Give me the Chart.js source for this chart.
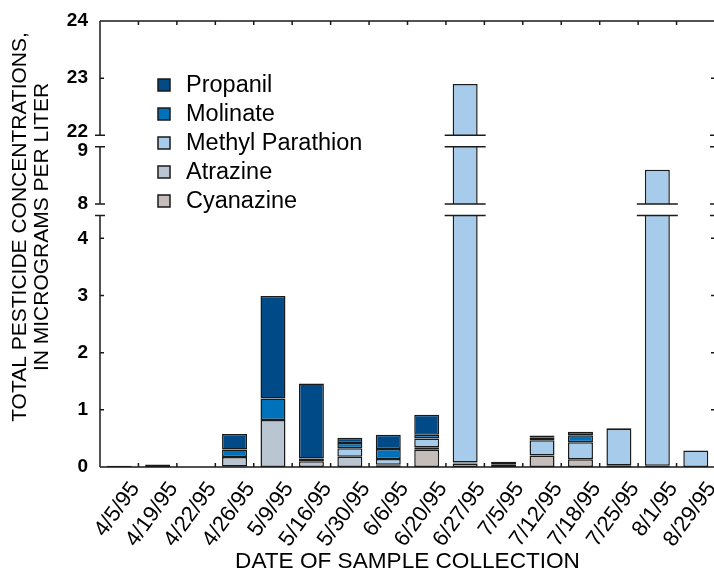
<!DOCTYPE html>
<html>
<head>
<meta charset="utf-8">
<script src="https://cdn.jsdelivr.net/npm/chart.js@4.4.0/dist/chart.umd.min.js"></script>
<style>
html, body { margin: 0; padding: 0; overflow: hidden; background: #fff; }
#wrap { width: 716px; height: 570px; }
</style>
</head>
<body>
<div id="wrap"><canvas id="pesticideChart" width="716" height="570"></canvas></div>
<script>
const FONT = "Arial, 'Liberation Sans', Helvetica, sans-serif";

// sample dates
const dates = ['4/5/95', '4/19/95', '4/22/95', '4/26/95', '5/9/95', '5/16/95', '5/30/95', '6/6/95',
  '6/20/95', '6/27/95', '7/5/95', '7/12/95', '7/18/95', '7/25/95', '8/1/95', '8/29/95'];

// concentrations, micrograms per liter (stacked bottom to top)
const cyanazine =       [0,    0,     0, 0.01,  0,    0,    0,    0.02,  0.30,  0.06,  0,    0.20,  0.135, 0.03, 0.02, 0];
const atrazine =        [0,    0,     0, 0.165, 0.82, 0.10, 0.18, 0.02,  0.045, 0.02,  0,    0,     0,     0,    0,    0];
const methylParathion = [0,    0,     0, 0,     0,    0.05, 0.15, 0.10,  0.155, 22.82, 0.04, 0.27,  0.30,  0.64, 8.58, 0.29];
const molinate =        [0,    0,     0, 0.13,  0.38, 0,    0.09, 0.175, 0.065, 0,     0.05, 0.05,  0.12,  0,    0,    0];
const propanil =        [0.02, 0.045, 0, 0.27,  1.79, 1.31, 0.09, 0.25,  0.35,  0,     0,    0.03,  0.06,  0.01, 0,    0];

// y axis: shown ranges and tick labels
const ySegments = [[0, 4.4], [8, 9], [22, 24]];
const yTicks = [0, 1, 2, 3, 4, 8, 9, 22, 23, 24];
const GAP = 0.2; // size of each axis break, in axis units

const segStart = [];
let acc = 0;
ySegments.forEach(([lo, hi]) => { segStart.push(acc); acc += (hi - lo) + GAP; });
const D_MAX = acc - GAP;

function toDisplay(v) {
  for (let i = 0; i < ySegments.length; i++) {
    const [lo, hi] = ySegments[i];
    if (v <= hi || i === ySegments.length - 1) {
      if (v >= lo || i === 0) return segStart[i] + (v - lo);
      const [plo, phi] = ySegments[i - 1];
      const prevEnd = segStart[i - 1] + (phi - plo);
      return prevEnd + (v - phi) / (lo - phi) * GAP;
    }
  }
}

function fromDisplay(d) {
  for (let i = 0; i < ySegments.length; i++) {
    const [lo, hi] = ySegments[i];
    const end = segStart[i] + (hi - lo);
    if (d <= end || i === ySegments.length - 1) {
      if (d >= segStart[i] || i === 0) return lo + (d - segStart[i]);
      const [plo, phi] = ySegments[i - 1];
      const prevEnd = segStart[i - 1] + (phi - plo);
      return phi + (d - prevEnd) / GAP * (lo - phi);
    }
  }
}

// linear scale with breaks in it
class BrokenLinearScale extends Chart.LinearScale {
  buildTicks() {
    return yTicks.map(value => ({ value }));
  }
  getPixelForValue(value) {
    return value === null ? NaN : this.getPixelForDecimal(toDisplay(value) / D_MAX);
  }
  getValueForPixel(pixel) {
    return fromDisplay(this.getDecimalForPixel(pixel) * D_MAX);
  }
}
BrokenLinearScale.id = 'brokenLinear';
BrokenLinearScale.defaults = Chart.LinearScale.defaults;
Chart.register(BrokenLinearScale);

const series = [
  { label: 'Cyanazine', data: cyanazine, color: '#c4bdb9' },
  { label: 'Atrazine', data: atrazine, color: '#b9c6d2' },
  { label: 'Methyl Parathion', data: methylParathion, color: '#a6cbeb' },
  { label: 'Molinate', data: molinate, color: '#0072bb' },
  { label: 'Propanil', data: propanil, color: '#004a87' }
];

const LINE = '#1a1a1a';

const framePlugin = {
  id: 'frame',
  afterDatasetsDraw(chart) {
    const { ctx } = chart;
    const y = chart.scales.y;
    // breaks through bars that pass an axis gap
    dates.forEach((d, j) => {
      const total = series.reduce((s, sr) => s + sr.data[j], 0);
      let bar = null;
      chart.data.datasets.forEach((ds, k) => {
        if (!bar && ds.data[j] !== null) bar = chart.getDatasetMeta(k).data[j];
      });
      if (!bar) return;
      const x0 = bar.x - bar.width / 2, x1 = bar.x + bar.width / 2;
      for (let i = 0; i < ySegments.length - 1; i++) {
        const nextLo = ySegments[i + 1][0];
        if (total <= nextLo) continue;
        const yTop = y.getPixelForValue(nextLo);
        const yBot = y.getPixelForValue(ySegments[i][1]);
        ctx.save();
        ctx.fillStyle = '#fff';
        ctx.fillRect(x0 - 2, yTop, x1 - x0 + 4, yBot - yTop);
        ctx.strokeStyle = LINE;
        ctx.lineWidth = 1.5;
        ctx.beginPath();
        ctx.moveTo(x0 - 8, yTop); ctx.lineTo(x1 + 8, yTop);
        ctx.moveTo(x0 - 8, yBot); ctx.lineTo(x1 + 8, yBot);
        ctx.stroke();
        ctx.restore();
      }
    });
  },
  afterDraw(chart) {
    const { ctx, chartArea: a } = chart;
    const y = chart.scales.y, x = chart.scales.x;
    ctx.save();
    ctx.strokeStyle = LINE;
    ctx.lineWidth = 1.5;
    ctx.beginPath();
    // left and right axes, one piece per segment, with caps at breaks
    [a.left, a.right].forEach((ax, side) => {
      const dir = side === 0 ? 1 : -1;
      ySegments.forEach(([lo, hi], i) => {
        ctx.moveTo(ax, y.getPixelForValue(lo));
        ctx.lineTo(ax, y.getPixelForValue(hi));
        if (i > 0) {
          const p = y.getPixelForValue(lo);
          ctx.moveTo(ax - 5, p); ctx.lineTo(ax + 5, p);
        }
        if (i < ySegments.length - 1) {
          const p = y.getPixelForValue(hi);
          ctx.moveTo(ax - 5, p); ctx.lineTo(ax + 5, p);
        }
      });
      y.ticks.forEach(t => {
        const isCap = ySegments.some(([lo, hi], i) => (i > 0 && t.value === lo) || (i < ySegments.length - 1 && t.value === hi));
        if (isCap) return;
        const p = y.getPixelForValue(t.value);
        ctx.moveTo(ax, p); ctx.lineTo(ax + 4 * dir, p);
      });
    });
    // top and bottom
    const yb = y.getPixelForValue(0), yt = y.getPixelForValue(24);
    ctx.moveTo(a.left, yb); ctx.lineTo(a.right, yb);
    ctx.moveTo(a.left, yt); ctx.lineTo(a.right, yt);
    for (let i = 0; i < dates.length - 1; i++) {
      const px = (x.getPixelForValue(i) + x.getPixelForValue(i + 1)) / 2;
      ctx.moveTo(px, yb); ctx.lineTo(px, yb - 4);
      ctx.moveTo(px, yt); ctx.lineTo(px, yt + 4);
    }
    ctx.stroke();

    // legend
    ctx.font = '23.5px ' + FONT;
    ctx.textBaseline = 'middle';
    ctx.textAlign = 'left';
    series.slice().reverse().forEach((s, k) => {
      const cy = 85 + k * 29;
      ctx.fillStyle = s.color;
      ctx.fillRect(158, cy - 6, 12, 12);
      ctx.lineWidth = 1.5;
      ctx.strokeRect(158, cy - 6, 12, 12);
      ctx.fillStyle = '#000';
      ctx.fillText(s.label, 186, cy + 1);
    });

    // y axis title
    ctx.font = '21px ' + FONT;
    ctx.textAlign = 'center';
    ctx.translate(20, 227);
    ctx.rotate(-Math.PI / 2);
    ctx.fillText('TOTAL PESTICIDE CONCENTRATIONS,', 0, 0);
    ctx.fillText('IN MICROGRAMS PER LITER', 0, 22);
    ctx.restore();
  }
};

const ctx = document.getElementById('pesticideChart').getContext('2d');
const pesticideChart = new Chart(ctx, {
  type: 'bar',
  data: {
    labels: dates,
    datasets: series.map(s => ({
      label: s.label,
      data: s.data.map(v => (v === 0 ? null : v)),
      backgroundColor: s.color,
      borderColor: LINE,
      borderWidth: 1.5,
      borderSkipped: false,
      barPercentage: 0.65,
      categoryPercentage: 1
    }))
  },
  options: {
    responsive: false,
    animation: false,
    devicePixelRatio: 1,
    layout: { padding: { top: 21, right: 1, bottom: 0, left: 0 } },
    plugins: { legend: { display: false }, tooltip: { enabled: false } },
    scales: {
      x: {
        stacked: true,
        grid: { display: false, drawTicks: false },
        border: { display: false },
        ticks: {
          autoSkip: false, minRotation: 54, maxRotation: 54,
          padding: 10, labelOffset: 16, color: '#000',
          font: { family: FONT, size: 22 }
        },
        title: {
          display: true, text: 'DATE OF SAMPLE COLLECTION', color: '#000',
          font: { family: FONT, size: 22.6, lineHeight: 1 }, padding: { top: 0, bottom: -3 }
        },
        afterFit(scale) {
          scale.height = 103;
          scale.paddingLeft = 0;
          scale.paddingRight = 0;
        }
      },
      y: {
        type: 'brokenLinear',
        stacked: true,
        min: 0,
        max: 24,
        grid: { display: false, drawTicks: false },
        border: { display: false },
        ticks: {
          autoSkip: false, padding: 12, color: '#000',
          font: { family: FONT, size: 19, weight: 'bold', lineHeight: 0.4 },
          callback: v => (v === 22 ? ['22', ''] : v === 9 ? ['', '9'] : String(v))
        },
        afterFit(scale) { scale.width = 100; }
      }
    }
  },
  plugins: [framePlugin]
});
</script>
</body>
</html>
